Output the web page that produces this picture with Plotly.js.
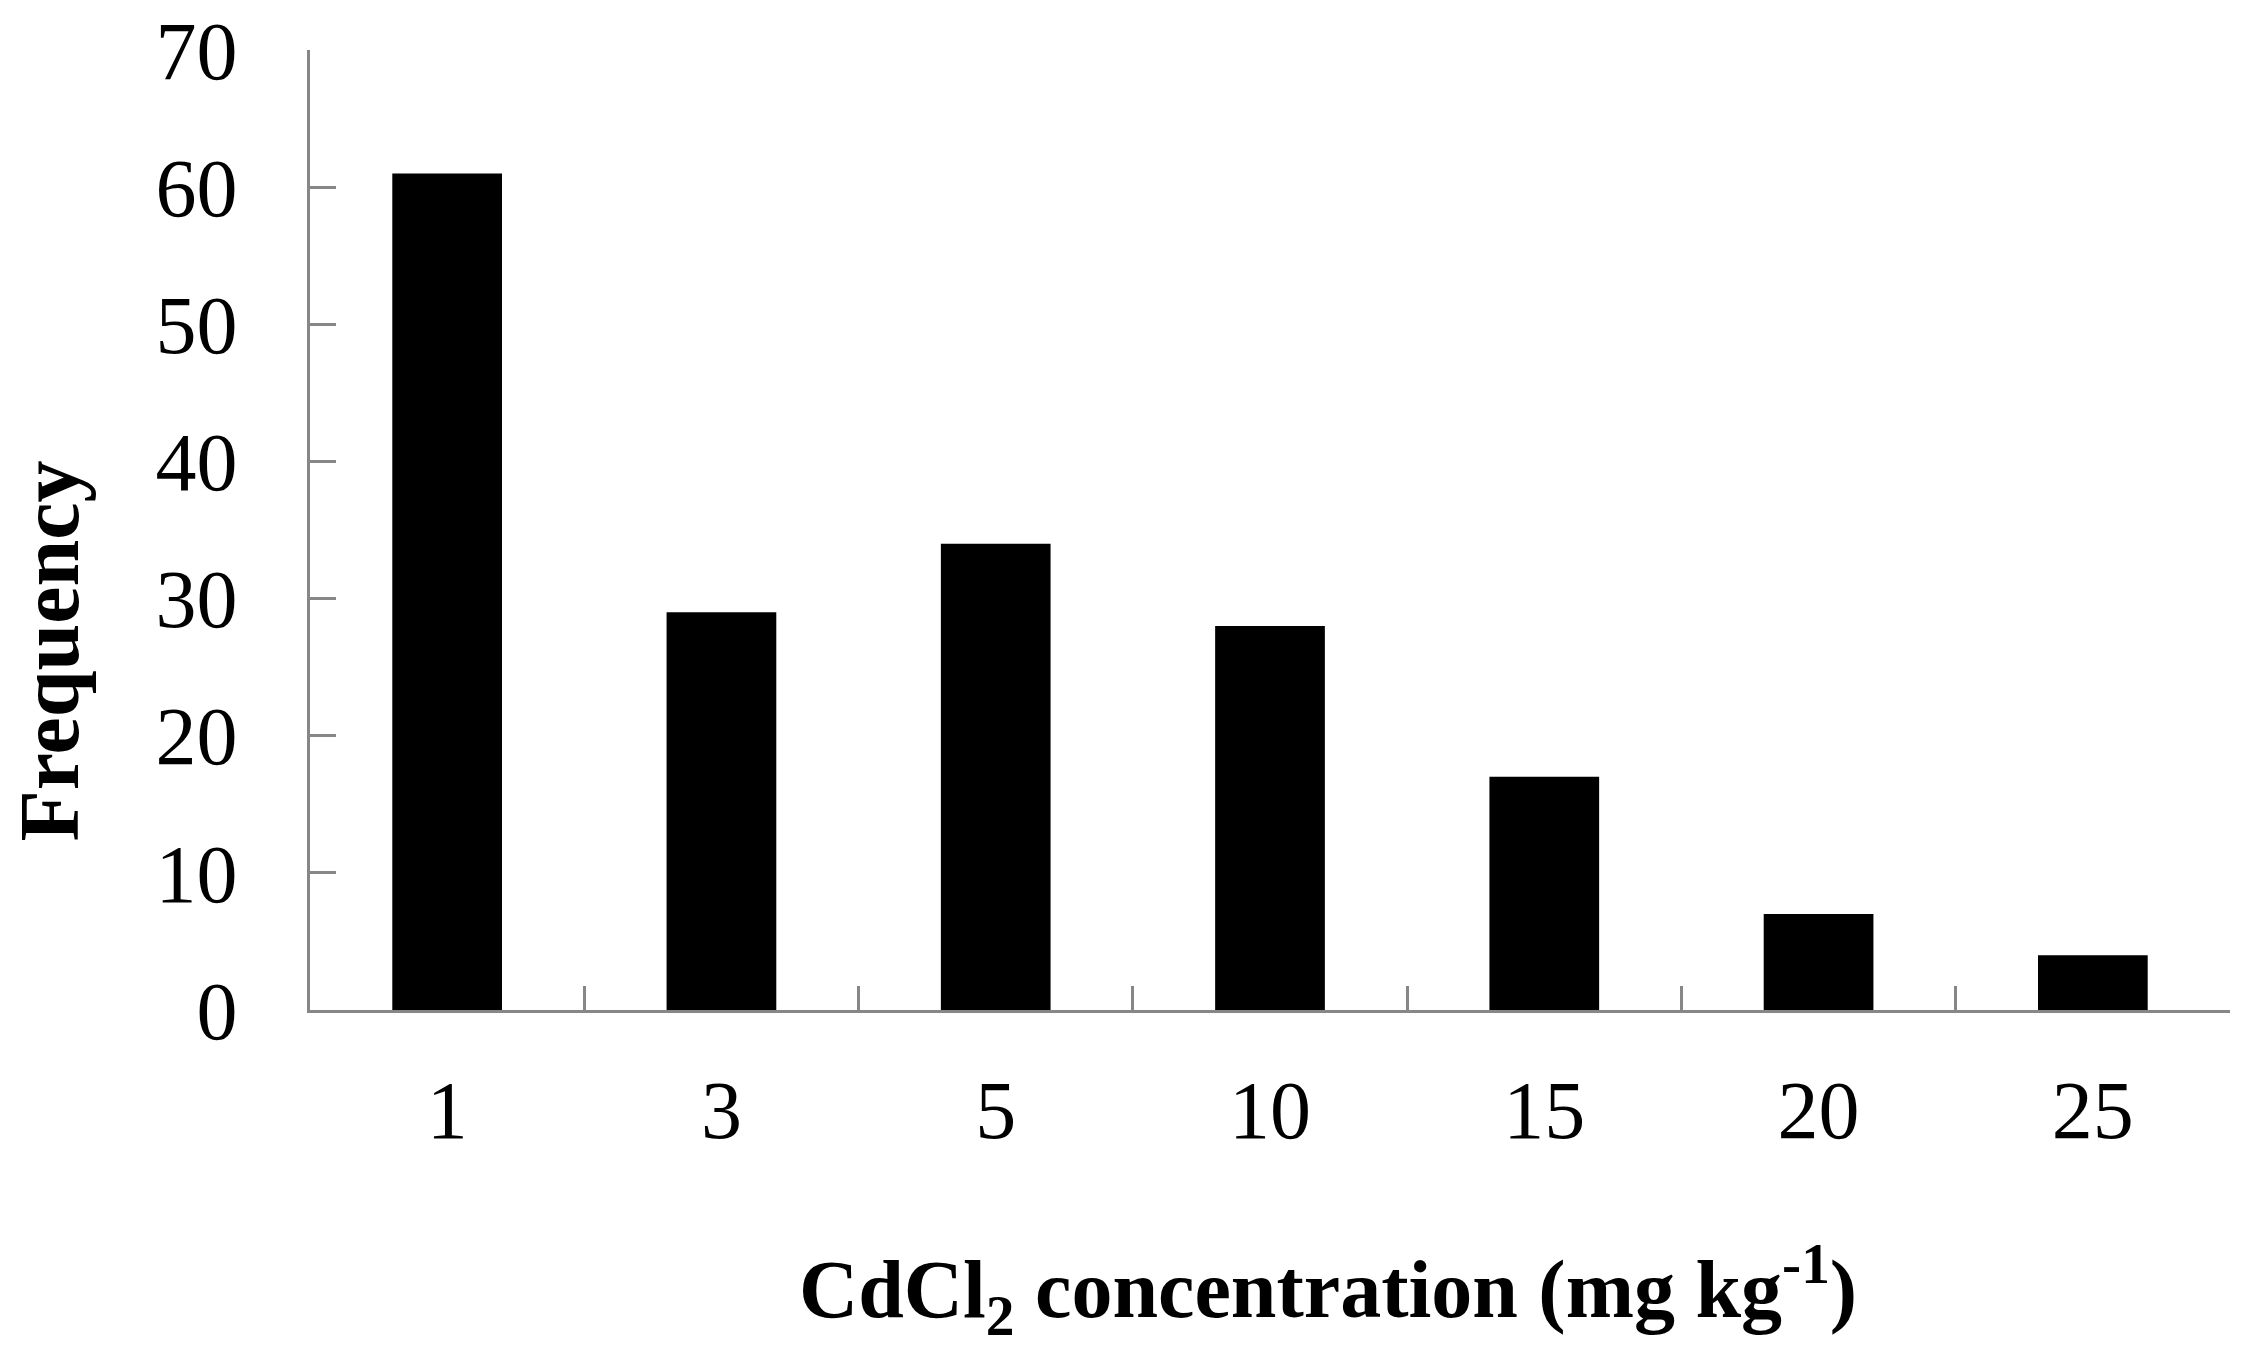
<!DOCTYPE html>
<html>
<head>
<meta charset="utf-8">
<script src="https://cdn.plot.ly/plotly-3.0.1.min.js"></script>
<style>html,body{margin:0;padding:0;background:#fff;}#chart{width:2244px;height:1356px;}</style>
</head>
<body>
<div id="chart"></div>
<script>
const categories = ["1", "3", "5", "10", "15", "20", "25"];
const frequency = [61, 29, 34, 28, 17, 7, 4];
const yTicks = [0, 10, 20, 30, 40, 50, 60, 70];
const xTitle = "CdCl<sub>2</sub> concentration (mg kg<sup>-1</sup>)";
const yTitle = "Frequency";

const serif = "Liberation Serif, Times New Roman, serif";
const axisGray = "#878787";

const data = [{
  type: "bar",
  x: categories,
  y: frequency,
  width: 0.4,
  marker: {color: "#000000", line: {width: 0}},
  hoverinfo: "x+y"
}];

const layout = {
  width: 2244,
  height: 1356,
  margin: {l: 310, r: 14, t: 50, b: 346},
  paper_bgcolor: "#ffffff",
  plot_bgcolor: "#ffffff",
  showlegend: false,
  font: {family: serif, color: "#000000"},
  xaxis: {
    type: "category",
    showline: true,
    linecolor: axisGray,
    linewidth: 3,
    ticks: "inside",
    tickson: "boundaries",
    ticklen: 24,
    tickwidth: 3,
    tickcolor: axisGray,
    showgrid: false,
    zeroline: false,
    tickfont: {family: serif, size: 82, color: "#000000"},
    ticklabelstandoff: 27
  },
  yaxis: {
    range: [0, 70],
    tickvals: yTicks,
    ticktext: yTicks.map(String),
    showline: true,
    linecolor: axisGray,
    linewidth: 3,
    ticks: "inside",
    ticklen: 26,
    tickwidth: 3,
    tickcolor: axisGray,
    showgrid: false,
    zeroline: false,
    tickfont: {family: serif, size: 82, color: "#000000"},
    ticklabelstandoff: 53
  },
  annotations: [
    {
      text: xTitle,
      xref: "paper", yref: "paper",
      x: (1328 - 310) / 1920, y: -(1349 - 1010) / 960,
      xanchor: "center", yanchor: "bottom",
      showarrow: false,
      font: {family: serif, size: 82, color: "#000000", weight: "bold"}
    },
    {
      text: yTitle,
      xref: "paper", yref: "paper",
      x: -(310 - 1) / 1920, y: (1010 - 651) / 960,
      xanchor: "left", yanchor: "middle",
      textangle: -90,
      borderpad: 0,
      showarrow: false,
      font: {family: serif, size: 84, color: "#000000", weight: "bold"}
    }
  ]
};

Plotly.newPlot("chart", data, layout, {displayModeBar: false, staticPlot: true});
</script>
</body>
</html>
